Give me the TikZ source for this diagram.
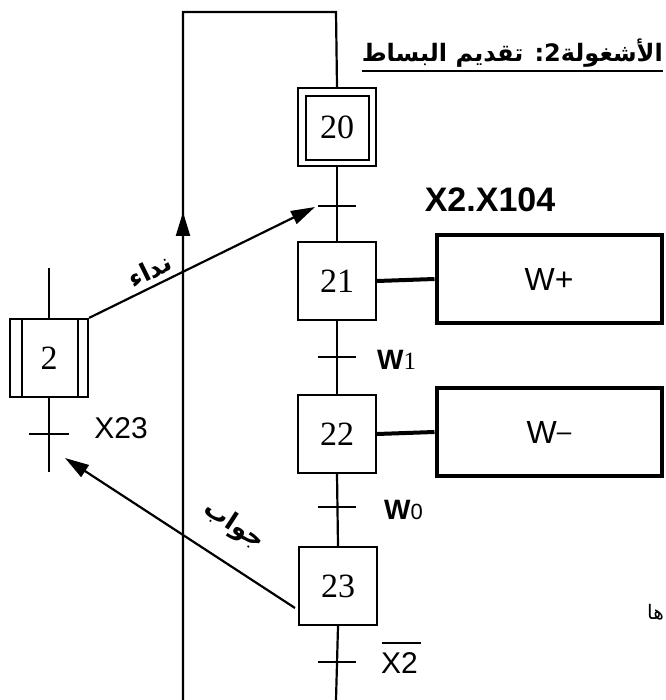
\documentclass[tikz,border=0pt]{standalone}
\usepackage{fontspec}
\setmainfont{Liberation Serif}
\newfontfamily\arial{Liberation Sans}
\newfontfamily\arabicfont[Script=Arabic]{DejaVu Sans}
\TeXXeTstate=1
\usetikzlibrary{arrows.meta,calc}
\begin{document}
\begin{tikzpicture}[x=1pt,y=-1pt,
  line join=miter,
  stepbox/.style={draw,line width=2.2pt,minimum width=78pt,minimum height=78pt,inner sep=0pt,
     font=\fontsize{34}{36}\selectfont},
  link/.style={line width=2.2pt},
  bar/.style={line width=2.6pt},
  actbox/.style={draw,line width=4pt,minimum width=225pt,minimum height=88pt,inner sep=0pt,
     font=\arial\fontsize{32}{36}\selectfont},
  actlink/.style={line width=4pt},
  sig/.style={line width=2.2pt,-{Triangle[length=24pt,width=14pt]}},
  lab/.style={font=\arial\fontsize{30}{34}\selectfont,inner sep=0pt},
  arlab/.style={font=\arabicfont\bfseries\fontsize{25}{28}\selectfont,inner sep=0pt}
]
\useasboundingbox (0,0) rectangle (665,700);
\fill[white] (0,0) rectangle (665,700);

% title
\node[anchor=base east,inner sep=0pt,font=\arabicfont\bfseries\fontsize{24}{28}\selectfont] (title) at (663,62)
  {\beginR الأشغولة2: تقديم البساط\endR};
\draw[line width=1.5pt] ($(title.base west)+(0,9)$) -- ($(title.base east)+(0,9)$);

% steps
\node[stepbox] (s20) at (337,127) {20};
\draw[line width=2pt] ($(s20.north west)+(9,9)$) rectangle ($(s20.south east)+(-8,-7)$);
\node[stepbox] (s21) at (337,281) {21};
\node[stepbox] (s22) at (337,434) {22};
\node[stepbox] (s23) at (338,586) {23};

% actions
\node[actbox] (a21) at (549,279) {W+};
\node[actbox] (a22) at (549,432) {W\raisebox{3pt}{\fontsize{26}{30}\selectfont –}};
\draw[actlink] (s21.east) -- (a21.west);
\draw[actlink] (s22.east) -- (a22.west);

% transitions
\coordinate (t1) at (336,206);
\coordinate (t2) at (336,357);
\coordinate (t3) at (336,507);
\coordinate (t4) at (336,662);
\coordinate (bot) at (336,700);
\draw[link] (s20.south) -- (s21.north);
\draw[link] (s21.south) -- (s22.north);
\draw[link] (s22.south) -- (s23.north);
\draw[link] (s23.south) -- (bot);
\foreach \t in {t1,t2,t3,t4} \draw[bar] ($(\t)+(-18,0)$) -- ($(\t)+(20,0)$);

\node[font=\arial\bfseries\fontsize{34}{36}\selectfont,inner sep=0pt] (c1) at (490,200) {X2.X104};
\node[inner sep=0pt,anchor=west] (c2) at (377,360) {\arial\bfseries\fontsize{28}{30}\selectfont W\rmfamily\mdseries\fontsize{25}{30}\selectfont 1};
\node[inner sep=0pt,anchor=west] (c3) at (384,510) {\arial\bfseries\fontsize{28}{30}\selectfont W\mdseries\fontsize{22}{30}\selectfont 0};
\node[lab,anchor=west] (c4) at (381,663) {X2};
\draw[line width=1.8pt] (382,643) -- (421,643);

% loop back
\coordinate (bl) at (183,700);
\coordinate (tl) at (183,12);
\coordinate (tr) at (336,12);
\draw[link] (bl) -- (tl) -- (tr) -- (s20.north);
\coordinate (up1) at (183,238);
\coordinate (up2) at (183,212);
\draw[line width=2.2pt,-{Triangle[length=24pt,width=14pt]}] (up1) -- (up2);

% macro step 2
\node[stepbox] (s2) at (49,358) {2};
\draw[link] ($(s2.north west)+(13,0)$) -- ($(s2.south west)+(13,0)$);
\draw[link] ($(s2.north east)+(-11,0)$) -- ($(s2.south east)+(-11,0)$);
\coordinate (m0) at (49,268);
\coordinate (m1) at (49,472);
\coordinate (tm) at (49,434);
\draw[link] (m0) -- (s2.north);
\draw[link] (s2.south) -- (m1);
\draw[bar] ($(tm)+(-20,0)$) -- ($(tm)+(20,0)$);
\node[lab] (c5) at (121,428) {X23};

% signals
\coordinate (ta) at (315,207);
\draw[sig] (s2.north east) -- node[pos=0.3,above=5pt,sloped,arlab] (call) {\beginR نداء\endR} (ta);
\coordinate (rs) at (295,608);
\coordinate (rt) at (65,458);
\draw[sig] (rs) -- node[pos=0.35,above=22pt,sloped,arlab] (resp) {\beginR جواب\endR} (rt);

% fragment at right
\node[anchor=east,inner sep=0pt,font=\arabicfont\fontsize{20}{22}\selectfont] (frag) at (664,612) {\beginR ها\endR};
\end{tikzpicture}
\end{document}
